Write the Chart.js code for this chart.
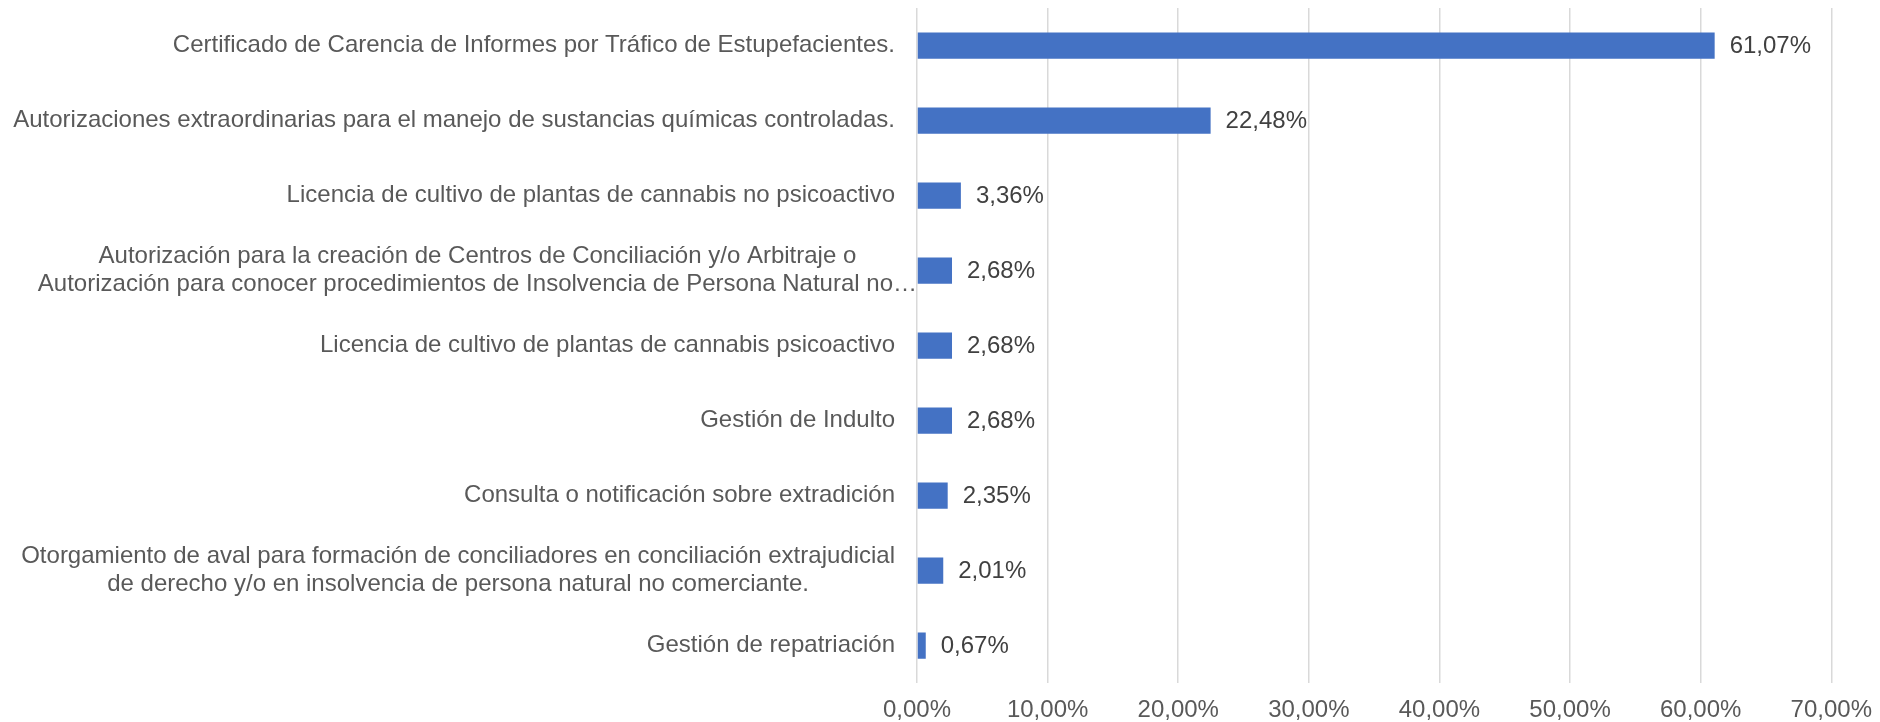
<!DOCTYPE html>
<html>
<head>
<meta charset="utf-8">
<script src="https://cdn.jsdelivr.net/npm/chart.js@4.4.1/dist/chart.umd.min.js"></script>
<style>
  body { margin: 0; background: #fff; }
  canvas { display: block; }
</style>
</head>
<body>
<canvas id="myChart" width="1880" height="722"></canvas>
<script>
// Trámites (labels can be arrays for multi-line)
const categories = [
    'Certificado de Carencia de Informes por Tráfico de Estupefacientes.',
    'Autorizaciones extraordinarias para el manejo de sustancias químicas controladas.',
    'Licencia de cultivo de plantas de cannabis no psicoactivo',
    ['Autorización para la creación de Centros de Conciliación y/o Arbitraje o',
     'Autorización para conocer procedimientos de Insolvencia de Persona Natural no…'],
    'Licencia de cultivo de plantas de cannabis psicoactivo',
    'Gestión de Indulto',
    'Consulta o notificación sobre extradición',
    ['Otorgamiento de aval para formación de conciliadores en conciliación extrajudicial',
     'de derecho y/o en insolvencia de persona natural no comerciante.'],
    'Gestión de repatriación'
];
const shares = [61.07, 22.48, 3.36, 2.68, 2.68, 2.68, 2.35, 2.01, 0.67];
const xMin = 0;
const xMax = 70;
const xStep = 10;

const FONT = '"Liberation Sans", Arial, sans-serif';

function pct(v, decimals) {
    return v.toFixed(decimals).replace('.', ',') + '%';
}

// draws the category labels (centered lines, block right aligned) and the value labels
const labelsPlugin = {
    id: 'labelsPlugin',
    afterDraw(chart) {
        const ctx = chart.ctx;
        const yScale = chart.scales.y;
        const meta = chart.getDatasetMeta(0);
        ctx.save();
        ctx.font = '24px ' + FONT;
        ctx.textBaseline = 'middle';

        // category labels
        ctx.fillStyle = '#595959';
        ctx.textAlign = 'center';
        categories.forEach((cat, i) => {
            const lines = Array.isArray(cat) ? cat : [cat];
            const w = Math.max(...lines.map(l => ctx.measureText(l).width));
            const right = lines[lines.length - 1].endsWith('…') ? 917 : 895;
            const cx = right - w / 2;
            const y = yScale.getPixelForValue(i);
            const lh = 27.5;
            lines.forEach((l, j) => {
                ctx.fillText(l, cx, y + (j - (lines.length - 1) / 2) * lh);
            });
        });

        // value labels
        ctx.fillStyle = '#404040';
        ctx.textAlign = 'left';
        meta.data.forEach((bar, i) => {
            ctx.fillText(pct(shares[i], 2), bar.x + 15, bar.y + 1);
        });
        ctx.restore();
    }
};

let ctx = document.getElementById('myChart').getContext('2d');
let chart = new Chart(ctx, {
    type: 'bar',
    data: {
        labels: categories,
        datasets: [{
            data: shares,
            backgroundColor: '#4472C4',
            borderWidth: 0,
            barPercentage: 0.35,
            categoryPercentage: 1
        }]
    },
    options: {
        indexAxis: 'y',
        responsive: false,
        animation: false,
        layout: {
            padding: { top: 8, right: 44, bottom: 0, left: 0 }
        },
        plugins: {
            legend: { display: false },
            tooltip: { enabled: false }
        },
        scales: {
            x: {
                min: xMin,
                max: xMax,
                ticks: {
                    stepSize: xStep,
                    color: '#595959',
                    padding: 8,
                    font: { size: 24, family: FONT, lineHeight: 1.6 },
                    callback: v => pct(v, 2)
                },
                grid: {
                    color: '#D9D9D9',
                    lineWidth: 1.5,
                    drawTicks: false
                },
                border: { display: false },
                afterFit: scale => { scale.height = 39; }
            },
            y: {
                ticks: { display: false },
                grid: { display: false },
                border: { display: false },
                afterFit: scale => { scale.width = 917; }
            }
        }
    },
    plugins: [labelsPlugin]
});
</script>
</body>
</html>
